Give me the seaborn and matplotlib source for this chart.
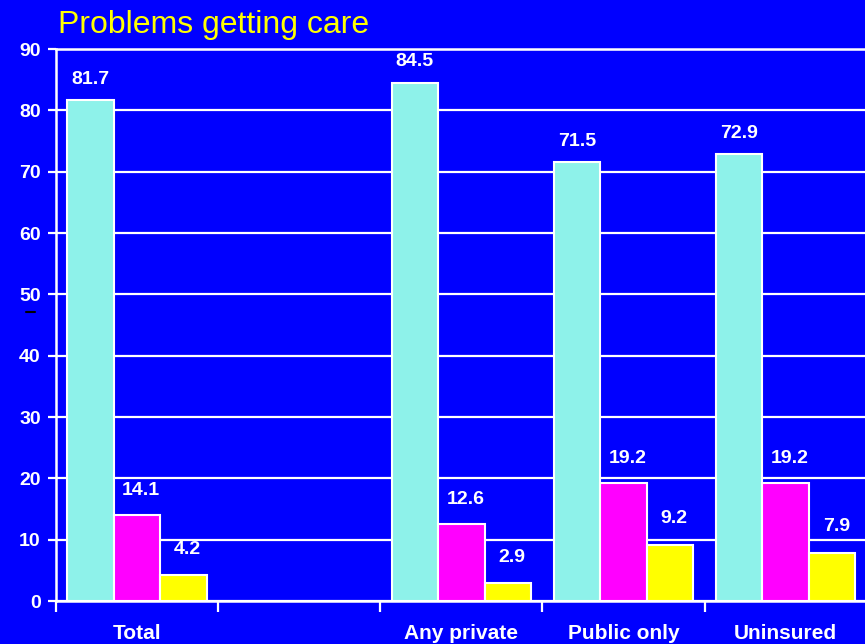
import matplotlib
matplotlib.use("Agg")
import matplotlib.pyplot as plt
import seaborn as sns
import pandas as pd
from matplotlib.lines import Line2D

# Survey groups (second slot intentionally left empty)
categories = ["Total", " ", "Any private", "Public only", "Uninsured"]
groups = ["Total", "Any private", "Public only", "Uninsured"]
series = ["None", "Some", "Big"]
no_problem = [81.7, 84.5, 71.5, 72.9]
small_problem = [14.1, 12.6, 19.2, 19.2]
big_problem = [4.2, 2.9, 9.2, 7.9]
y_ticks = [0, 10, 20, 30, 40, 50, 60, 70, 80, 90]

colors = ["#8EF2EA", "#FF00FF", "#FFFF00"]
bg = "#0000FF"

rows = []
for s, vals in zip(series, [no_problem, small_problem, big_problem]):
    for g, v in zip(groups, vals):
        rows.append({"group": g, "series": s, "value": v})
df = pd.DataFrame(rows)

sns.set_style("white")
plt.rcParams["font.family"] = ["Liberation Sans", "DejaVu Sans"]

fig = plt.figure(figsize=(8.65, 6.44), dpi=100)
fig.patch.set_facecolor(bg)
ax = fig.add_axes([56 / 865, 1 - 601 / 644, 1 - 56 / 865 + 0.002, (601 - 49) / 644])
ax.set_facecolor(bg)

sns.barplot(data=df, x="group", y="value", hue="series", order=categories,
            hue_order=series, palette=colors, width=0.86, saturation=1,
            edgecolor="white", linewidth=1.5, legend=False, ax=ax)

ax.set_axisbelow(True)
ax.set_ylim(0, 90)
ax.set_xlim(-0.5, 4.5)
ax.set_yticks(y_ticks)
ax.yaxis.grid(True, color="white", linewidth=1.6)
ax.xaxis.grid(False)

ax.spines["right"].set_visible(False)
for side in ["left", "bottom", "top"]:
    ax.spines[side].set_color("white")
    ax.spines[side].set_linewidth(1.8)

ax.tick_params(axis="y", colors="white", direction="out", length=6, width=1.6,
               pad=5, labelsize=14, left=True)
for lbl in ax.get_yticklabels():
    lbl.set_fontweight("bold")

ax.set_xticks(range(len(categories)))
ax.set_xticklabels(categories, fontsize=15, fontweight="bold", color="white")
ax.tick_params(axis="x", which="major", length=0, pad=16.5)
ax.set_xticks([i - 0.5 for i in range(len(categories) + 1)], minor=True)
ax.tick_params(axis="x", which="minor", colors="white", direction="out",
               length=8, width=1.6, bottom=True)
ax.set_xlabel("")
ax.set_ylabel("")

# Value labels above each bar
offsets = [(0, 15), (3, 17.5), (3, 18.5)]
for cont, (dx, dy) in zip(ax.containers, offsets):
    for bar in cont:
        h = bar.get_height()
        ax.annotate(f"{h:.1f}", (bar.get_x() + bar.get_width() / 2, h),
                    xytext=(dx, dy), textcoords="offset points",
                    ha="center", va="center", color="white",
                    fontsize=14, fontweight="bold", annotation_clip=False)

fig.text(58 / 865, 1 - 33 / 644, "Problems getting care", color="#FFFF00",
         fontsize=23, ha="left", va="baseline")

# small dash mark beside the axis
fig.add_artist(Line2D([26 / 865, 35 / 865], [1 - 312 / 644, 1 - 312 / 644],
                      color="black", linewidth=1.5))

fig.savefig("out.png", dpi=100, facecolor=bg)
